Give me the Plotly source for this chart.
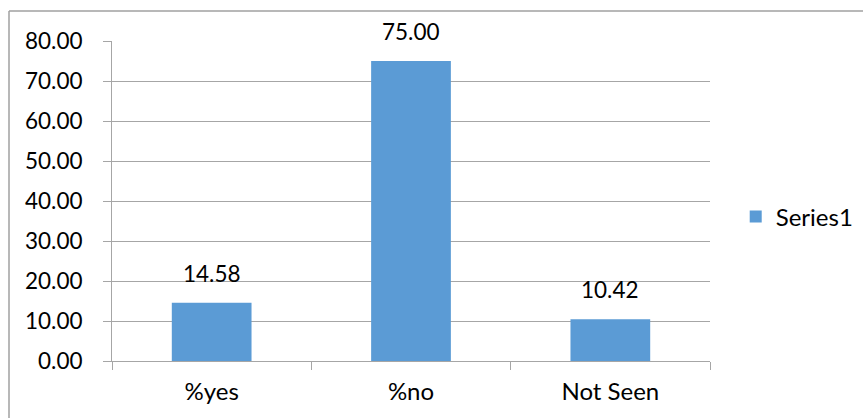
import plotly.graph_objects as go

categories = ["%yes", "%no", "Not Seen"]
values = [14.58, 75.00, 10.42]
series_name = "Series1"
y_ticks = [0, 10, 20, 30, 40, 50, 60, 70, 80]

BAR_COLOR = "#5b9bd5"
GRID = "#a6a6a6"
FAMILY = "Lato, 'Open Sans', sans-serif"
NUM_FONT = dict(family=FAMILY, size=22.5, color="#000000")
TXT_FONT = dict(family=FAMILY, size=24, color="#000000")

W, H = 863, 418
L, R, T, B = 112, 153, 41, 57
plot_w = W - L - R
plot_h = H - T - B

fig = go.Figure()
fig.add_trace(go.Bar(
    x=categories, y=values, name=series_name,
    marker=dict(color=BAR_COLOR, line=dict(width=0)),
    width=0.4, showlegend=True,
))

# value labels above each bar
for c, v in zip(categories, values):
    fig.add_annotation(x=c, y=v, text=f"{v:.2f}", showarrow=False,
                       yanchor="bottom", yshift=14, font=NUM_FONT)

# chart-area border (top and left edges)
bx = (9 - L) / plot_w
by = (H - B - 11) / plot_h
fig.add_shape(type="line", xref="paper", yref="paper", x0=bx, x1=bx, y0=by, y1=-0.5,
              line=dict(color="#a0a0a0", width=1.5))
fig.add_shape(type="line", xref="paper", yref="paper", x0=bx, x1=1.5, y0=by, y1=by,
              line=dict(color="#a0a0a0", width=1.5))

fig.update_layout(
    width=W, height=H,
    margin=dict(l=L, r=R, t=T, b=B, pad=0, autoexpand=False),
    paper_bgcolor="white", plot_bgcolor="white",
    font=NUM_FONT,
    legend=dict(x=1.043, y=0.45, xanchor="left", yanchor="middle",
                font=TXT_FONT, itemwidth=30, bgcolor="rgba(0,0,0,0)"),
    xaxis=dict(
        showgrid=False, showline=True, linecolor=GRID, linewidth=1,
        ticks="outside", ticklen=8, tickcolor=GRID, tickson="boundaries",
        tickfont=TXT_FONT, ticklabelstandoff=9, automargin=False,
    ),
    yaxis=dict(
        range=[0, 80], tickvals=y_ticks, tickformat=".2f",
        showgrid=True, gridcolor=GRID, gridwidth=1,
        showline=True, linecolor=GRID, linewidth=1,
        ticks="outside", ticklen=8, tickcolor=GRID,
        tickfont=NUM_FONT, ticklabelstandoff=16, zeroline=False, automargin=False,
    ),
)

fig.write_html("out.html")
